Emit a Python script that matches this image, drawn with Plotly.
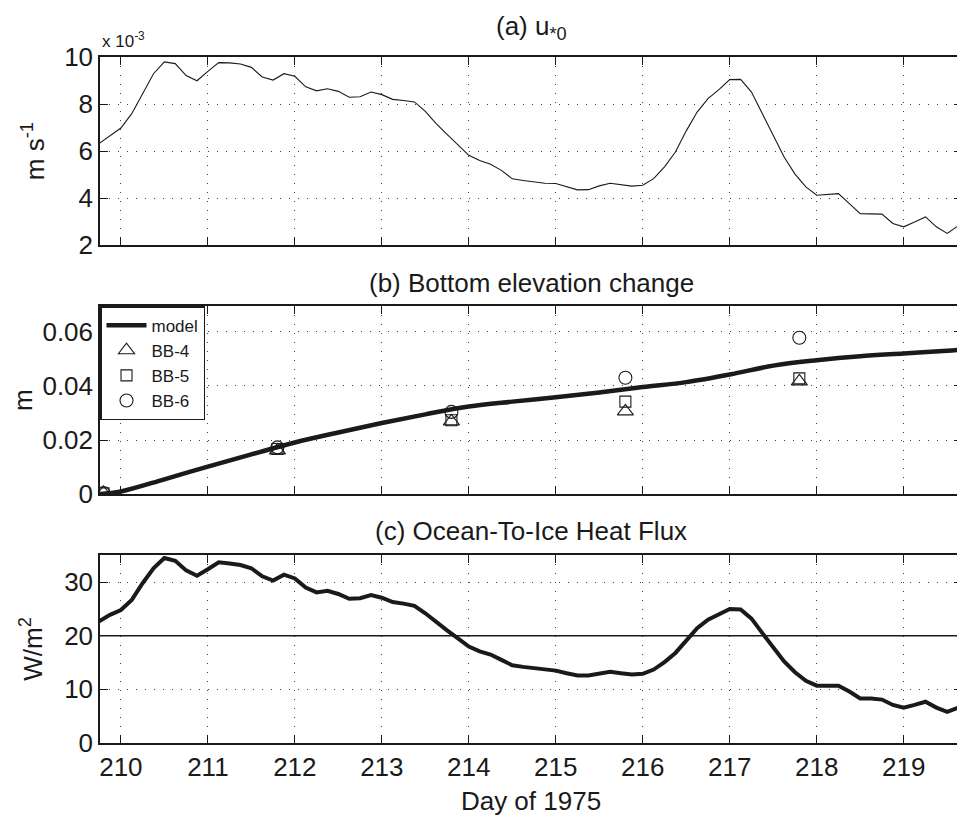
import plotly.graph_objects as go

# ---------------- data ----------------
# (a) friction velocity u*0, in units of 1e-3 m/s, 3-hourly
days_a = [209.75, 209.875, 210.0, 210.125, 210.25, 210.375, 210.5, 210.625, 210.75, 210.875,
          211.0, 211.125, 211.25, 211.375, 211.5, 211.625, 211.75, 211.875,
          212.0, 212.125, 212.25, 212.375, 212.5, 212.625, 212.75, 212.875,
          213.0, 213.125, 213.25, 213.375, 213.5, 213.625, 213.75, 213.875,
          214.0, 214.125, 214.25, 214.375, 214.5, 214.625, 214.75, 214.875,
          215.0, 215.125, 215.25, 215.375, 215.5, 215.625, 215.75, 215.875,
          216.0, 216.125, 216.25, 216.375, 216.5, 216.625, 216.75, 216.875,
          217.0, 217.125, 217.25, 217.375, 217.5, 217.625, 217.75, 217.875,
          218.0, 218.125, 218.25, 218.375, 218.5, 218.625, 218.75, 218.875,
          219.0, 219.125, 219.25, 219.375, 219.5, 219.625, 219.75]
ustar_1e3 = [6.32, 6.65, 6.98, 7.59, 8.44, 9.29, 9.79, 9.72, 9.21, 8.99,
             9.39, 9.76, 9.75, 9.70, 9.56, 9.15, 9.02, 9.29,
             9.18, 8.73, 8.56, 8.65, 8.54, 8.29, 8.31, 8.51,
             8.40, 8.20, 8.15, 8.09, 7.69, 7.17, 6.71, 6.26,
             5.82, 5.60, 5.44, 5.18, 4.82, 4.75, 4.69, 4.63,
             4.62, 4.48, 4.35, 4.36, 4.52, 4.63, 4.58, 4.51,
             4.55, 4.83, 5.33, 5.96, 6.86, 7.66, 8.23, 8.61,
             9.04, 9.05, 8.51, 7.59, 6.67, 5.75, 5.02, 4.48,
             4.12, 4.17, 4.19, 3.77, 3.34, 3.33, 3.32, 2.92,
             2.78, 2.99, 3.20, 2.78, 2.50, 2.82, 3.06]

# (b) bottom elevation change
days_model = [209.75, 210.0, 210.5, 211.0, 211.5, 212.0, 212.5, 213.0, 213.5, 214.0,
              214.5, 215.0, 215.5, 216.0, 216.5, 217.0, 217.5, 218.0, 218.5, 219.0,
              219.5, 219.75]
elev_model = [0.0, 0.001, 0.0055, 0.0102, 0.0147, 0.0191, 0.0228, 0.0263, 0.0295, 0.0324,
              0.0342, 0.0358, 0.0376, 0.0396, 0.0414, 0.0442, 0.0475, 0.0495, 0.0510, 0.0520,
              0.0530, 0.0536]
days_obs = [209.8, 211.8, 213.8, 215.8, 217.8]
bb4 = [0.0005, 0.0162, 0.0269, 0.0306, 0.0417]
bb5 = [0.0003, 0.0167, 0.0273, 0.0342, 0.0428]
bb6 = [0.0004, 0.0173, 0.0304, 0.0430, 0.0578]

# (c) ocean-to-ice heat flux, W/m^2
heat_flux = [22.7, 23.9, 24.8, 26.7, 29.8, 32.6, 34.5, 34.0, 32.2, 31.2,
             32.4, 33.7, 33.5, 33.2, 32.6, 31.1, 30.3, 31.4,
             30.7, 29.0, 28.1, 28.4, 27.8, 26.9, 27.0, 27.6,
             27.1, 26.3, 26.0, 25.6, 24.2, 22.5, 21.0, 19.5,
             18.0, 17.1, 16.5, 15.5, 14.5, 14.2, 14.0, 13.7,
             13.5, 13.0, 12.6, 12.6, 13.0, 13.3, 13.0, 12.8,
             12.9, 13.7, 15.1, 16.8, 19.1, 21.4, 23.0, 24.1,
             25.0, 24.9, 23.2, 20.5, 17.7, 15.2, 13.2, 11.6,
             10.7, 10.7, 10.7, 9.6, 8.3, 8.3, 8.1, 7.1,
             6.6, 7.1, 7.7, 6.6, 5.8, 6.6, 7.5]
flux_ref = 20

x_ticks = [210, 211, 212, 213, 214, 215, 216, 217, 218, 219]
ticks_a = [2, 4, 6, 8, 10]
ticks_b = [0, 0.02, 0.04, 0.06]
ticklabels_b = ["0", "0.02", "0.04", "0.06"]
ticks_c = [0, 10, 20, 30]

# ---------------- figure ----------------
FONT = "Liberation Sans, Arial, Helvetica, sans-serif"
INK = "#1a1a1a"
xr = [209.76, 219.67]
TICK_SIZE = 26
TITLE_SIZE = 26

fig = go.Figure()

fig.add_trace(go.Scatter(x=days_a, y=ustar_1e3, mode="lines",
                         line=dict(color=INK, width=1.1),
                         xaxis="x", yaxis="y", showlegend=False))

fig.add_trace(go.Scatter(x=days_model, y=elev_model, mode="lines", name="model",
                         line=dict(color=INK, width=4.5, shape="spline"),
                         xaxis="x2", yaxis="y2"))
for name, vals, sym, sz in [("BB-4", bb4, "triangle-up-open", 14),
                            ("BB-5", bb5, "square-open", 11),
                            ("BB-6", bb6, "circle-open", 13)]:
    fig.add_trace(go.Scatter(x=days_obs, y=vals, mode="markers", name=name,
                             marker=dict(symbol=sym, size=sz,
                                         color=INK, line=dict(width=1.1, color=INK)),
                             xaxis="x2", yaxis="y2"))

fig.add_trace(go.Scatter(x=days_a, y=heat_flux, mode="lines",
                         line=dict(color=INK, width=4),
                         xaxis="x3", yaxis="y3", showlegend=False))
fig.add_trace(go.Scatter(x=[days_a[0], days_a[-1]], y=[flux_ref, flux_ref], mode="lines",
                         line=dict(color=INK, width=1.5),
                         xaxis="x3", yaxis="y3", showlegend=False))

common_x = dict(range=xr, tickvals=x_ticks, showgrid=True, gridcolor="#444",
                griddash="1px,8px", gridwidth=1, zeroline=False,
                showline=True, linecolor=INK, linewidth=1.5, mirror="ticks",
                ticks="inside", ticklen=8, tickcolor=INK, tickwidth=1,
                tickfont=dict(size=TICK_SIZE, color=INK, family=FONT))
common_y = dict(showgrid=True, gridcolor="#444", griddash="1px,8px", gridwidth=1,
                zeroline=False, showline=True, linecolor=INK, linewidth=1.5,
                mirror="ticks", ticks="inside", ticklen=8, tickcolor=INK, tickwidth=1,
                tickfont=dict(size=TICK_SIZE, color=INK, family=FONT))

dom_a = [0.7257, 1.0]
dom_b = [0.3627, 0.6369]
dom_c = [0.0, 0.2743]

fig.update_layout(
    width=957, height=808,
    margin=dict(l=92, r=1, t=48.7, b=72.7),
    paper_bgcolor="white", plot_bgcolor="white",
    font=dict(family=FONT, color=INK, size=22),
    xaxis=dict(common_x, domain=[0, 1], anchor="y", showticklabels=False, matches="x3"),
    xaxis2=dict(common_x, domain=[0, 1], anchor="y2", showticklabels=False, matches="x3"),
    xaxis3=dict(common_x, domain=[0, 1], anchor="y3",
                title=dict(text="Day of 1975", font=dict(size=TITLE_SIZE, family=FONT, color=INK),
                           standoff=14)),
    yaxis=dict(common_y, domain=dom_a, anchor="x", range=[2, 10], tickvals=ticks_a,
               title=dict(text="m s<sup>-1</sup>", font=dict(size=TITLE_SIZE), standoff=12)),
    yaxis2=dict(common_y, domain=dom_b, anchor="x2", range=[0, 0.0695], tickvals=ticks_b,
                ticktext=ticklabels_b,
                title=dict(text="m", font=dict(size=TITLE_SIZE), standoff=8)),
    yaxis3=dict(common_y, domain=dom_c, anchor="x3", range=[0, 35.1], tickvals=ticks_c,
                title=dict(text="W/m<sup>2</sup>", font=dict(size=TITLE_SIZE), standoff=14)),
    legend=dict(x=0.0, y=dom_b[1], xanchor="left", yanchor="top",
                bgcolor="white", bordercolor=INK, borderwidth=1.5,
                font=dict(size=17, family=FONT, color=INK),
                tracegroupgap=0, itemwidth=40),
    showlegend=True,
)

annotations = [
    dict(text="(a) u<sub>*0</sub>", x=0.5, y=dom_a[1], xref="paper", yref="paper",
         xanchor="center", yanchor="middle", yshift=30, showarrow=False,
         font=dict(size=TITLE_SIZE, family=FONT, color=INK)),
    dict(text="(b) Bottom elevation change", x=0.5, y=dom_b[1], xref="paper", yref="paper",
         xanchor="center", yanchor="middle", yshift=23, showarrow=False,
         font=dict(size=TITLE_SIZE, family=FONT, color=INK)),
    dict(text="(c) Ocean-To-Ice Heat Flux", x=0.5, y=dom_c[1], xref="paper", yref="paper",
         xanchor="center", yanchor="middle", yshift=24, showarrow=False,
         font=dict(size=TITLE_SIZE, family=FONT, color=INK)),
    dict(text="x 10<sup>-3</sup>", x=0.0, y=dom_a[1], xref="paper", yref="paper",
         xanchor="left", yanchor="bottom", yshift=4, showarrow=False,
         font=dict(size=17, family=FONT, color=INK)),
]
fig.update_layout(annotations=annotations)

fig.write_html("out.html")
